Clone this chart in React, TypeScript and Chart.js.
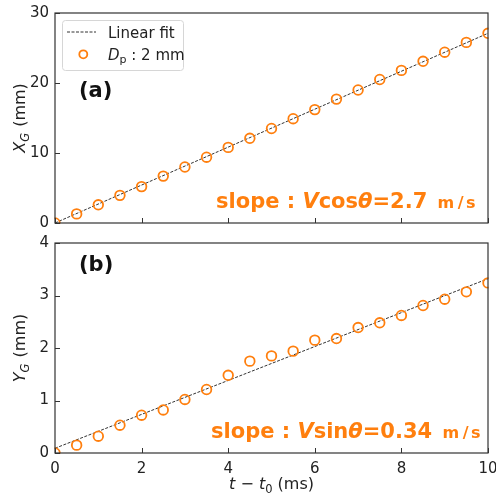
import React, { useEffect, useRef } from 'react';
import { Chart, registerables } from 'chart.js';

Chart.register(...registerables);

// ---- data ----
const timeMs = [0, 0.5, 1, 1.5, 2, 2.5, 3, 3.5, 4, 4.5, 5, 5.5, 6, 6.5, 7, 7.5, 8, 8.5, 9, 9.5, 10];
const xgMm = [0, 1.3, 2.6, 3.95, 5.2, 6.7, 8.0, 9.4, 10.8, 12.1, 13.5, 14.9, 16.2, 17.7, 19.0, 20.5, 21.8, 23.1, 24.4, 25.8, 27.1];
const ygMm = [0, 0.15, 0.32, 0.53, 0.72, 0.82, 1.02, 1.21, 1.48, 1.75, 1.85, 1.94, 2.15, 2.18, 2.39, 2.48, 2.62, 2.81, 2.93, 3.07, 3.24];
const fitTime = [0, 10];
const fitXg = [0, 27.1];
const fitYg = [0.09, 3.32];
const xTickValues = [0, 2, 4, 6, 8, 10];
const xgTickValues = [0, 10, 20, 30];
const ygTickValues = [0, 1, 2, 3, 4];

const ORANGE = '#ff7f0e';
const FAM = '"DejaVu Sans", sans-serif';
const INK = '#222';
const FRAME = '#333';

type Seg = { t: string; f: string; dy?: number; gap?: number };

function richWidth(ctx: CanvasRenderingContext2D, segs: Seg[]) {
  let w = 0;
  for (const s of segs) {
    ctx.font = s.f;
    w += ctx.measureText(s.t).width + (s.gap || 0);
  }
  return w;
}

function drawRich(ctx: CanvasRenderingContext2D, x: number, y: number, segs: Seg[], color: string, align: 'left' | 'center' = 'left') {
  const w = richWidth(ctx, segs);
  let cx = align === 'center' ? x - w / 2 : x;
  ctx.fillStyle = color;
  ctx.textAlign = 'left';
  ctx.textBaseline = 'alphabetic';
  for (const s of segs) {
    ctx.font = s.f;
    ctx.fillText(s.t, cx, y + (s.dy || 0));
    cx += ctx.measureText(s.t).width + (s.gap || 0);
  }
}

type Panel = {
  yValues: number[];
  fitY: number[];
  yMax: number;
  yTicks: number[];
  showXLabels: boolean;
  canvasH: number;
  areaTop: number;
  areaBottom: number;
  offsetY: number;
  label: string;
  labelBaseline: number;
  yTitle: string;
  slopeFn: string;
  slopeVal: string;
  slopeX: number;
  slopeBaseline: number;
  legend: boolean;
};

function makeChart(canvas: HTMLCanvasElement, p: Panel) {
  const extras = {
    id: 'extras',
    afterDraw(chart: any) {
      const ctx: CanvasRenderingContext2D = chart.ctx;
      const { left, right, top, bottom } = chart.chartArea;
      const oy = p.offsetY;
      ctx.save();
      // frame
      ctx.strokeStyle = FRAME;
      ctx.lineWidth = 1.2;
      ctx.strokeRect(left, top, right - left, bottom - top);
      // inward ticks
      ctx.lineWidth = 1;
      ctx.beginPath();
      for (const v of xTickValues) {
        const px = Math.round(chart.scales.x.getPixelForValue(v)) + 0.5;
        ctx.moveTo(px, bottom);
        ctx.lineTo(px, bottom - 5);
      }
      for (const v of p.yTicks) {
        const py = Math.round(chart.scales.y.getPixelForValue(v)) + 0.5;
        ctx.moveTo(left, py);
        ctx.lineTo(left + 5, py);
      }
      ctx.stroke();

      // panel label
      drawRich(ctx, 79, p.labelBaseline - oy, [{ t: p.label, f: `bold 21px ${FAM}` }], '#111');

      // slope annotation
      drawRich(ctx, p.slopeX, p.slopeBaseline - oy, [
        { t: 'slope : ', f: `bold 21px ${FAM}` },
        { t: 'V', f: `italic bold 21px ${FAM}` },
        { t: p.slopeFn, f: `bold 21px ${FAM}` },
        { t: 'θ', f: `italic bold 21px ${FAM}` },
        { t: '=' + p.slopeVal + ' ', f: `bold 21px ${FAM}`, gap: 3 },
        { t: 'm', f: `bold 16px ${FAM}`, gap: 3.5 },
        { t: '/', f: `bold 16px ${FAM}`, gap: 2.5 },
        { t: 's', f: `bold 16px ${FAM}` },
      ], ORANGE);

      // y title (rotated)
      const midY = (top + bottom) / 2;
      ctx.save();
      ctx.translate(19, midY);
      ctx.rotate(-Math.PI / 2);
      drawRich(ctx, 0, 6, [
        { t: p.yTitle, f: `italic 16px ${FAM}` },
        { t: 'G', f: `italic 11.5px ${FAM}`, dy: 3.5, gap: 1 },
        { t: ' (mm)', f: `16px ${FAM}` },
      ], INK, 'center');
      ctx.restore();

      // x title
      if (p.showXLabels) {
        const cx = (left + right) / 2;
        drawRich(ctx, cx, 489 - oy, [
          { t: 't', f: `italic 16px ${FAM}` },
          { t: ' − ', f: `16px ${FAM}` },
          { t: 't', f: `italic 16px ${FAM}` },
          { t: '0', f: `11.5px ${FAM}`, dy: 3.5 },
          { t: ' (ms)', f: `16px ${FAM}` },
        ], INK, 'center');
      }

      // legend
      if (p.legend) {
        const bx = 62.5, by = 20.5, bw = 121, bh = 50, r = 3;
        ctx.beginPath();
        ctx.moveTo(bx + r, by);
        ctx.arcTo(bx + bw, by, bx + bw, by + bh, r);
        ctx.arcTo(bx + bw, by + bh, bx, by + bh, r);
        ctx.arcTo(bx, by + bh, bx, by, r);
        ctx.arcTo(bx, by, bx + bw, by, r);
        ctx.closePath();
        ctx.fillStyle = 'rgba(255,255,255,0.85)';
        ctx.fill();
        ctx.strokeStyle = '#d6d6d6';
        ctx.lineWidth = 1;
        ctx.stroke();
        // line sample
        ctx.beginPath();
        ctx.setLineDash([3, 1.5]);
        ctx.strokeStyle = '#333';
        ctx.lineWidth = 1;
        ctx.moveTo(67, 32);
        ctx.lineTo(96, 32);
        ctx.stroke();
        ctx.setLineDash([]);
        // marker sample
        ctx.beginPath();
        ctx.arc(83.3, 54.3, 4, 0, Math.PI * 2);
        ctx.strokeStyle = ORANGE;
        ctx.lineWidth = 1.8;
        ctx.stroke();
        drawRich(ctx, 108, 37.5, [{ t: 'Linear fit', f: `15px ${FAM}` }], INK);
        drawRich(ctx, 108, 60, [
          { t: 'D', f: `italic 15px ${FAM}` },
          { t: 'p', f: `11px ${FAM}`, dy: 3 },
          { t: ' : 2 mm', f: `15px ${FAM}` },
        ], INK);
      }
      ctx.restore();
    },
  };

  return new Chart(canvas, {
    type: 'scatter',
    data: {
      datasets: [
        {
          label: 'Linear fit',
          data: fitTime.map((t, i) => ({ x: t, y: p.fitY[i] })),
          showLine: true,
          borderColor: '#333',
          borderWidth: 1,
          borderDash: [3, 1.5],
          pointRadius: 0,
          fill: false,
          order: 2,
        },
        {
          label: 'Dp : 2 mm',
          data: timeMs.map((t, i) => ({ x: t, y: p.yValues[i] })),
          showLine: false,
          pointStyle: 'circle',
          pointRadius: 4.8,
          pointBorderWidth: 1.8,
          pointBackgroundColor: 'rgba(0,0,0,0)',
          pointBorderColor: ORANGE,
          borderColor: ORANGE,
          backgroundColor: 'rgba(0,0,0,0)',
          clip: 0.5,
          order: 1,
        } as any,
      ],
    },
    options: {
      responsive: false,
      animation: false,
      devicePixelRatio: 1,
      layout: { padding: { left: 0, right: 8, top: p.areaTop, bottom: 0 } },
      plugins: { legend: { display: false }, tooltip: { enabled: false } },
      scales: {
        x: {
          type: 'linear',
          min: 0,
          max: 10,
          grid: { display: false, drawTicks: false, tickLength: 0 },
          border: { display: false },
          afterBuildTicks: (s: any) => { s.ticks = xTickValues.map((v) => ({ value: v })); },
          afterFit: (s: any) => {
            s.height = p.canvasH - p.areaBottom;
            s.paddingLeft = 0;
            s.paddingRight = 0;
          },
          ticks: {
            display: p.showXLabels,
            color: INK,
            padding: 7,
            maxRotation: 0,
            font: { family: FAM, size: 15 },
          },
        },
        y: {
          type: 'linear',
          min: 0,
          max: p.yMax,
          grid: { display: false, drawTicks: false, tickLength: 0 },
          border: { display: false },
          afterBuildTicks: (s: any) => { s.ticks = p.yTicks.map((v) => ({ value: v })); },
          afterFit: (s: any) => {
            s.width = 55;
            s.paddingTop = 0;
            s.paddingBottom = 0;
          },
          ticks: {
            color: INK,
            padding: 6,
            font: { family: FAM, size: 15 },
          },
        },
      },
    },
    plugins: [extras],
  } as any);
}

const topPanel: Panel = {
  yValues: xgMm,
  fitY: fitXg,
  yMax: 30,
  yTicks: xgTickValues,
  showXLabels: false,
  canvasH: 233,
  areaTop: 13,
  areaBottom: 223,
  offsetY: 0,
  label: '(a)',
  labelBaseline: 97,
  yTitle: 'X',
  slopeFn: 'cos',
  slopeVal: '2.7',
  slopeX: 216,
  slopeBaseline: 207.5,
  legend: true,
};

const bottomPanel: Panel = {
  yValues: ygMm,
  fitY: fitYg,
  yMax: 4,
  yTicks: ygTickValues,
  showXLabels: true,
  canvasH: 262,
  areaTop: 10,
  areaBottom: 220,
  offsetY: 233,
  label: '(b)',
  labelBaseline: 270.5,
  yTitle: 'Y',
  slopeFn: 'sin',
  slopeVal: '0.34',
  slopeX: 211,
  slopeBaseline: 438,
  legend: false,
};

export default function App() {
  const topRef = useRef<HTMLCanvasElement>(null);
  const botRef = useRef<HTMLCanvasElement>(null);
  useEffect(() => {
    const a = makeChart(topRef.current!, topPanel);
    const b = makeChart(botRef.current!, bottomPanel);
    return () => { a.destroy(); b.destroy(); };
  }, []);
  return (
    <div style={{ position: 'absolute', left: 0, top: 0, width: 496, height: 495, background: '#fff' }}>
      <canvas ref={topRef} width={496} height={233} style={{ position: 'absolute', left: 0, top: 0, display: 'block' }} />
      <canvas ref={botRef} width={496} height={262} style={{ position: 'absolute', left: 0, top: 233, display: 'block' }} />
    </div>
  );
}
